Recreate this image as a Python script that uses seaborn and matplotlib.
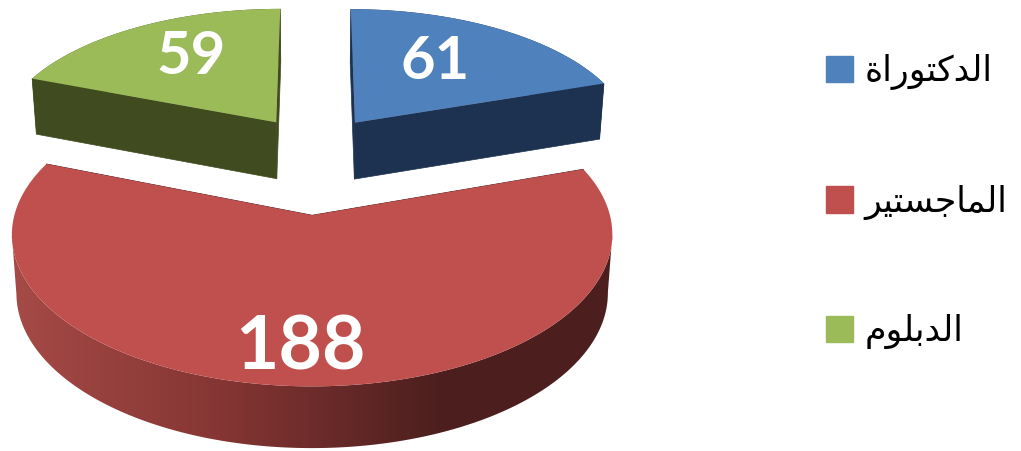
import numpy as np
import seaborn as sns
import matplotlib.pyplot as plt
from matplotlib.patches import Patch, Polygon

categories = ['الدكتوراة', 'الماجستير', 'الدبلوم']
counts = [61, 188, 59]
explode = [0.25, 0.47, 0.25]
top_colors = ['#4f81bd', '#c0504d', '#9bbb59']
side_stops = [['#1d3250', '#1d3250'],
              ['#a54a47', '#843533', '#4c1f1e'],
              ['#414b20', '#414b20']]

# matplotlib does no arabic shaping, so pick the joined letter forms by hand
FORMS = {
    'ا': (0xFE8D, 0xFE8E), 'د': (0xFEA9, 0xFEAA), 'ر': (0xFEAD, 0xFEAE),
    'و': (0xFEED, 0xFEEE), 'ة': (0xFE93, 0xFE94),
    'ل': (0xFEDD, 0xFEDE, 0xFEDF, 0xFEE0), 'ك': (0xFED9, 0xFEDA, 0xFEDB, 0xFEDC),
    'ت': (0xFE95, 0xFE96, 0xFE97, 0xFE98), 'م': (0xFEE1, 0xFEE2, 0xFEE3, 0xFEE4),
    'ج': (0xFE9D, 0xFE9E, 0xFE9F, 0xFEA0), 'س': (0xFEB1, 0xFEB2, 0xFEB3, 0xFEB4),
    'ي': (0xFEF1, 0xFEF2, 0xFEF3, 0xFEF4), 'ب': (0xFE8F, 0xFE90, 0xFE91, 0xFE92),
}


def shape(word):
    out = []
    joined = False
    for i, ch in enumerate(word):
        f = FORMS[ch]
        joins_next = len(f) == 4 and i < len(word) - 1
        if joined:
            out.append(f[3] if joins_next else f[1])
        else:
            out.append(f[2] if joins_next else f[0])
        joined = joins_next
    return ''.join(chr(c) for c in out)[::-1]


# pie plane -> pixels, a plain perspective so the back looks smaller
OX, OY, A, B, K = 315, 149, 281, 133, 0.12
SHRINK = 0.985


def project(x, y):
    w = 1 + K * np.asarray(y)
    return OX + A * np.asarray(x) / w, OY - B * np.asarray(y) / w


def drop(px, py):
    # the rim gets a little taller towards the viewer
    return OX + (px - OX) * SHRINK, py + 56 + (py - 100) * 0.02


sns.set_theme(style='white')
fig, ax = plt.subplots(figsize=(10.21, 4.51), dpi=100)
ax.set_position([0, 0, 1, 1])
colors = sns.color_palette(top_colors)
wedges, _ = ax.pie(counts, explode=explode, colors=colors, startangle=90, counterclock=False)

label_frac = [0.62, 0.8, 0.66]
label_size = [43, 54, 43]
label_dx = [-11, -6, 9]
xs = np.arange(1021)
shade = np.clip((xs - 12) / 428, 0, 1)[None, :]

for i, w in enumerate(wedges):
    w.set_visible(False)
    cx, cy = w.center
    th = np.radians(np.linspace(w.theta1, w.theta2, 400))
    px, py = project(cx + w.r * np.cos(th), cy + w.r * np.sin(th))
    ax0, ay0 = project(cx, cy)
    bx, by = drop(px, py)
    abx, aby = drop(ax0, ay0)
    grad = sns.blend_palette(side_stops[i], as_cmap=True)

    # the two flat cut faces first, then the rim with its shading
    for j in (0, -1):
        ax.fill([ax0, px[j], bx[j], abx], [ay0, py[j], by[j], aby], color=grad(1.0), lw=0.5, zorder=2)
    # only between the left and right extremes, past them the rim is hidden
    lo, hi = sorted([px.argmin(), px.argmax()])
    sx, sy = px[lo:hi + 1], py[lo:hi + 1]
    rim = Polygon(np.c_[np.r_[sx, bx[lo:hi + 1][::-1]], np.r_[sy, by[lo:hi + 1][::-1]]], transform=ax.transData)
    im = ax.imshow(shade, cmap=grad, vmin=0, vmax=1, extent=(0, 1021, 451, 0), aspect='auto', zorder=2)
    im.set_clip_path(rim)

    ax.fill(np.r_[ax0, px], np.r_[ay0, py], color=colors[i], lw=0, zorder=3)

    mid = np.radians((w.theta1 + w.theta2) / 2)
    lx, ly = project(cx + label_frac[i] * np.cos(mid), cy + label_frac[i] * np.sin(mid))
    ax.text(lx + label_dx[i], ly, str(counts[i]), color='white', fontsize=label_size[i], fontweight='bold',
            family='Lato', ha='center', va='center', zorder=4)

ax.set_aspect('auto')
ax.set_xlim(0, 1021)
ax.set_ylim(451, 0)

handles = [Patch(color=c, label=shape(n)) for c, n in zip(colors, categories)]
ax.legend(handles=handles, loc='upper left', bbox_to_anchor=(0.809, 0.88), frameon=False,
          fontsize=25, handlelength=0.78, handleheight=0.78, handletextpad=0.33,
          labelspacing=2.72, borderpad=0, borderaxespad=0, labelcolor='black')

fig.savefig('out.png', dpi=100)
